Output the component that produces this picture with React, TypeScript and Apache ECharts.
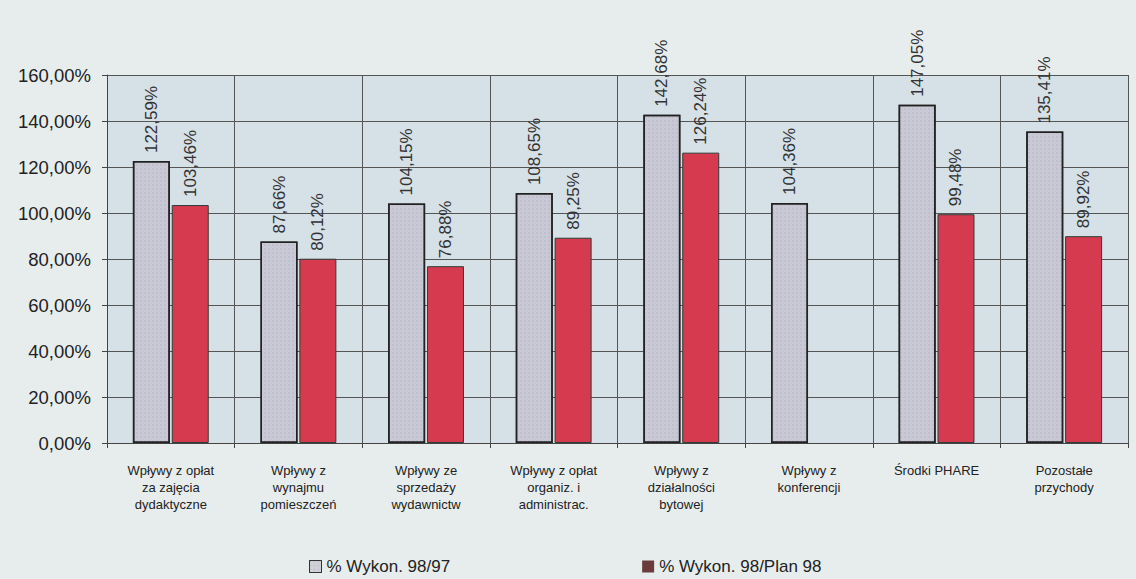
import React, { useEffect, useRef } from "react";
import * as echarts from "echarts";

const categories = [
  "Wpływy z opłat\nza zajęcia\ndydaktyczne",
  "Wpływy z\nwynajmu\npomieszczeń",
  "Wpływy ze\nsprzedaży\nwydawnictw",
  "Wpływy z opłat\norganiz. i\nadministrac.",
  "Wpływy z\ndziałalności\nbytowej",
  "Wpływy z\nkonferencji",
  "Środki PHARE",
  "Pozostałe\nprzychody",
];
const seriesNames = ["% Wykon. 98/97", "% Wykon. 98/Plan 98"];
const wykon9897 = [122.59, 87.66, 104.15, 108.65, 142.68, 104.36, 147.05, 135.41];
const wykonPlan = [103.46, 80.12, 76.88, 89.25, 126.24, null, 99.48, 89.92];
const yTicks = { min: 0, max: 160, interval: 20 };

const fmt = (v: number) => v.toFixed(2).replace(".", ",") + "%";

export default function App() {
  const ref = useRef<HTMLDivElement>(null);
  useEffect(() => {
    const chart = echarts.init(ref.current!, null, { renderer: "svg" });
    const labelCfg = {
      show: true,
      position: "top" as const,
      rotate: 90,
      align: "left" as const,
      verticalAlign: "middle" as const,
      distance: 8,
      fontFamily: "Arial, Liberation Sans, sans-serif",
      fontSize: 17,
      color: "#333",
      formatter: (p: any) => fmt(p.value),
    };
    chart.setOption({
      animation: false,
      backgroundColor: "#e7eded",
      textStyle: { fontFamily: "Arial, Liberation Sans, sans-serif" },
      grid: {
        left: 107,
        right: 8,
        top: 75,
        bottom: 136,
        show: true,
        backgroundColor: "#d6e0e7",
        borderWidth: 0,
      },
      legend: {
        left: 309,
        top: 558,
        padding: 0,
        itemWidth: 12,
        itemHeight: 12,
        itemGap: 192,
        icon: "rect",
        textStyle: { fontSize: 17, color: "#222" },
        data: [
          { name: seriesNames[0], itemStyle: { color: "#d0d0d8", borderColor: "#333", borderWidth: 1 } },
          { name: seriesNames[1], itemStyle: { color: "#6b3c3c", borderWidth: 0 } },
        ],
      },
      xAxis: {
        type: "category",
        data: categories,
        boundaryGap: true,
        axisLine: { lineStyle: { color: "#444", width: 1 } },
        axisTick: { show: true, length: 5, lineStyle: { color: "#444" } },
        splitLine: { show: true, lineStyle: { color: "#555", width: 1 } },
        axisLabel: {
          interval: 0,
          fontSize: 13,
          lineHeight: 17,
          color: "#222",
          margin: 19,
        },
      },
      yAxis: {
        type: "value",
        min: yTicks.min,
        max: yTicks.max,
        interval: yTicks.interval,
        axisLine: { show: true, lineStyle: { color: "#444", width: 1 } },
        axisTick: { show: true, length: 5, lineStyle: { color: "#444" } },
        splitLine: { show: true, lineStyle: { color: "#555", width: 1 } },
        axisLabel: {
          fontSize: 18.5,
          color: "#222",
          margin: 16,
          formatter: (v: number) => fmt(v),
        },
      },
      series: [
        {
          name: seriesNames[0],
          type: "bar",
          data: wykon9897,
          barWidth: "29%",
          barGap: "5%",
          itemStyle: {
            color: "#c9c9d6",
            borderColor: "#222",
            borderWidth: 1.5,
            decal: {
              symbol: "rect",
              symbolSize: 0.5,
              dashArrayX: [2, 2],
              dashArrayY: [2, 2],
              color: "rgba(90,90,110,0.35)",
            },
          },
          label: labelCfg,
        },
        {
          name: seriesNames[1],
          type: "bar",
          data: wykonPlan,
          barWidth: "29%",
          itemStyle: { color: "#d53a4e", borderColor: "#2f3d38", borderWidth: 1 },
          label: labelCfg,
        },
      ],
    });
    return () => chart.dispose();
  }, []);
  return (
    <div
      ref={ref}
      style={{ position: "fixed", left: 0, top: 0, width: 1136, height: 579 }}
    />
  );
}
